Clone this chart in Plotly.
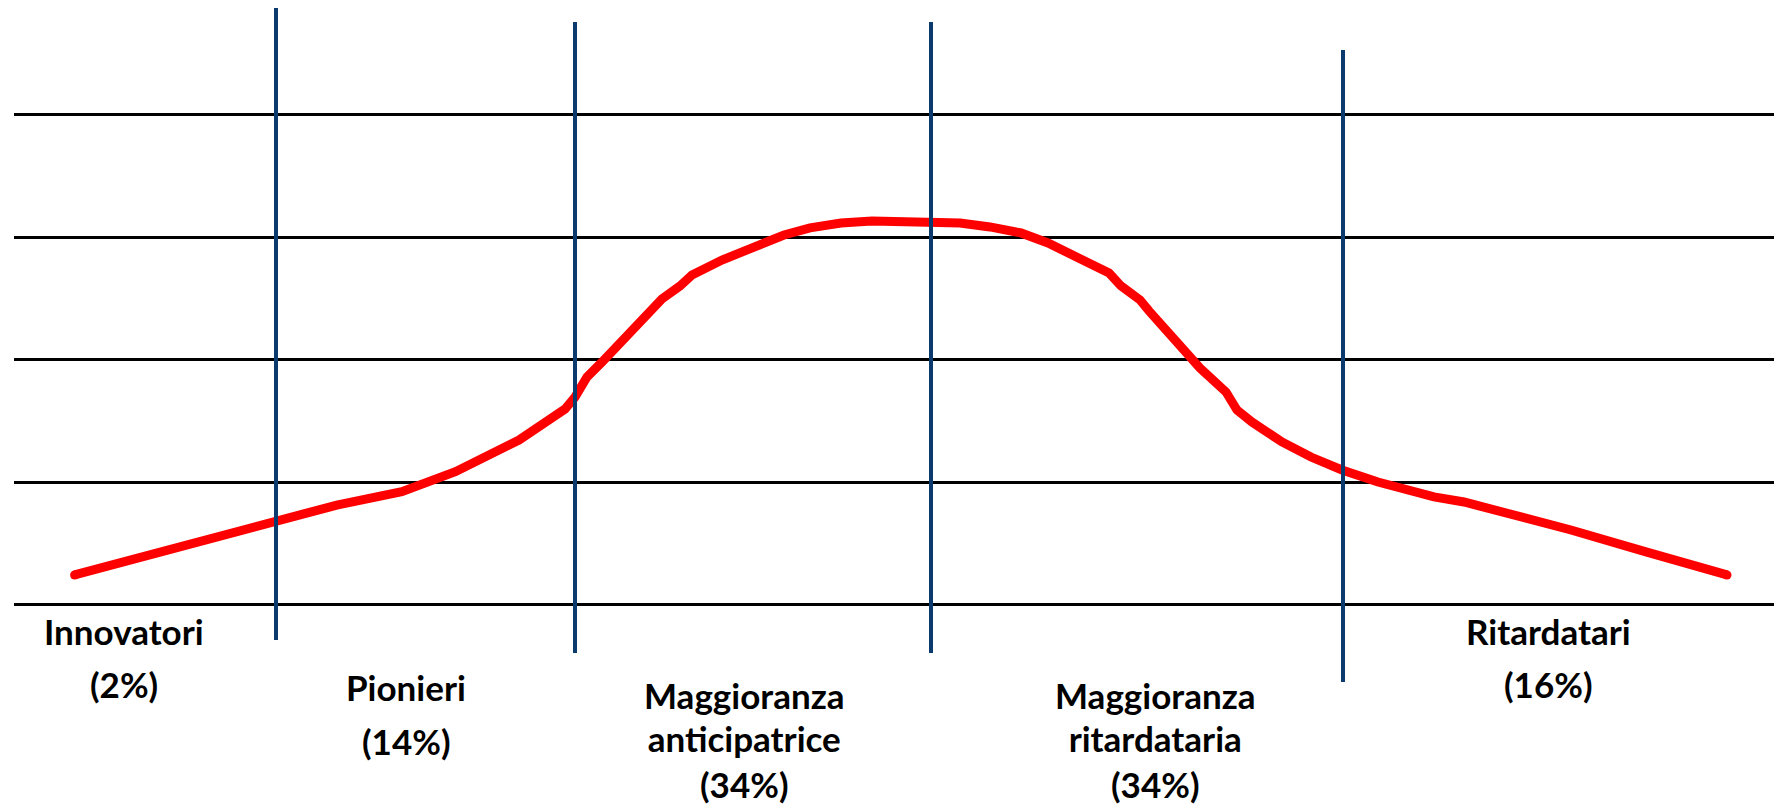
import plotly.graph_objects as go

# ---- data ----
# horizontal position (same unit as the picture's width), vertical in grid steps
curve_x = [74.6, 275.5, 336.8, 401.8, 423, 455.4, 519, 551, 565, 575, 587, 602, 623, 652,
           662, 680, 692, 722, 753, 784, 810, 841, 872, 899, 931, 960, 990, 1021, 1048,
           1078, 1109, 1121, 1140, 1149, 1174, 1186, 1200, 1226, 1237, 1252, 1282, 1311,
           1342, 1378, 1404, 1434, 1464, 1497, 1571, 1646, 1727]
curve_y = [0.242, 0.677, 0.813, 0.922, 0.983, 1.085, 1.344, 1.516, 1.597, 1.695, 1.859,
           1.981, 2.161, 2.398, 2.496, 2.602, 2.692, 2.814, 2.920, 3.018, 3.076, 3.116,
           3.133, 3.133, 3.133, 3.116, 3.084, 3.035, 2.953, 2.831, 2.708, 2.602, 2.488,
           2.398, 2.177, 2.063, 1.932, 1.736, 1.589, 1.491, 1.328, 1.205, 1.099, 1.001,
           0.936, 0.879, 0.838, 0.773, 0.609, 0.430, 0.242]

grid_levels = [0, 1, 2, 3, 4]

divider_x = [276, 575, 931, 1343]
divider_top = [4.872, 4.758, 4.758, 4.529]
divider_bottom = [-0.289, -0.395, -0.395, -0.632]

category_lines = [["Innovatori"], ["Pionieri"], ["Maggioranza", "anticipatrice"],
                  ["Maggioranza", "ritardataria"], ["Ritardatari"]]
category_share = ["(2%)", "(14%)", "(34%)", "(34%)", "(16%)"]

# ---- layout of the labels ----
label_x = [124, 406, 744, 1155, 1548]
label_name_y = [-0.212, -0.669, -0.914, -0.914, -0.212]
label_share_y = [-0.646, -1.118, -1.465, -1.465, -0.646]

TEXT_PX = 35          # glyph size of the labels
STACK_PX = 33         # base size that sets the gap between stacked lines
FONT = dict(family="Lato, 'Open Sans', sans-serif", size=TEXT_PX, color="black")

# the page body adds an 8px offset, so the figure is 8px smaller than the window
fig = go.Figure()
fig.add_trace(go.Scatter(x=curve_x, y=curve_y, mode="lines",
                         line=dict(color="#FF0000", width=9), hoverinfo="skip"))
fig.add_trace(go.Scatter(x=[curve_x[0], curve_x[-1]], y=[curve_y[0], curve_y[-1]],
                         mode="markers", marker=dict(color="#FF0000", size=9),
                         hoverinfo="skip"))

for x, y0, y1 in zip(divider_x, divider_bottom, divider_top):
    fig.add_shape(type="line", x0=x, x1=x, y0=y0, y1=y1, xref="x", yref="y",
                  line=dict(color="#0B3A6E", width=4), layer="above")


def span(txt):
    return '<span style="font-size:%dpx"><b>%s</b></span>' % (TEXT_PX, txt)


for lines, share, lx, ny, sy in zip(category_lines, category_share, label_x,
                                     label_name_y, label_share_y):
    if len(lines) == 1:
        fig.add_annotation(x=lx, y=ny, text="<b>%s</b>" % lines[0], showarrow=False,
                           xanchor="center", yanchor="middle", font=FONT)
    else:
        fig.add_annotation(x=lx, y=ny, text="<br>".join(span(t) for t in lines),
                           showarrow=False, xanchor="center", yanchor="middle",
                           align="center", font=dict(FONT, size=STACK_PX))
    fig.add_annotation(x=lx, y=sy, text="<b>%s</b>" % share, showarrow=False,
                       xanchor="center", yanchor="middle", font=FONT)

fig.update_layout(
    width=1774, height=799,
    margin=dict(l=6, r=0, t=0, b=0),
    paper_bgcolor="white", plot_bgcolor="white",
    showlegend=False,
    xaxis=dict(range=[14, 1782], visible=False, fixedrange=True),
    yaxis=dict(range=[-1.653, 4.872], tickvals=grid_levels, showticklabels=False,
               showgrid=True, gridcolor="black", gridwidth=2.5, zeroline=False,
               showline=False, ticks="", fixedrange=True),
)

fig.write_html("out.html", config={"displayModeBar": False})
